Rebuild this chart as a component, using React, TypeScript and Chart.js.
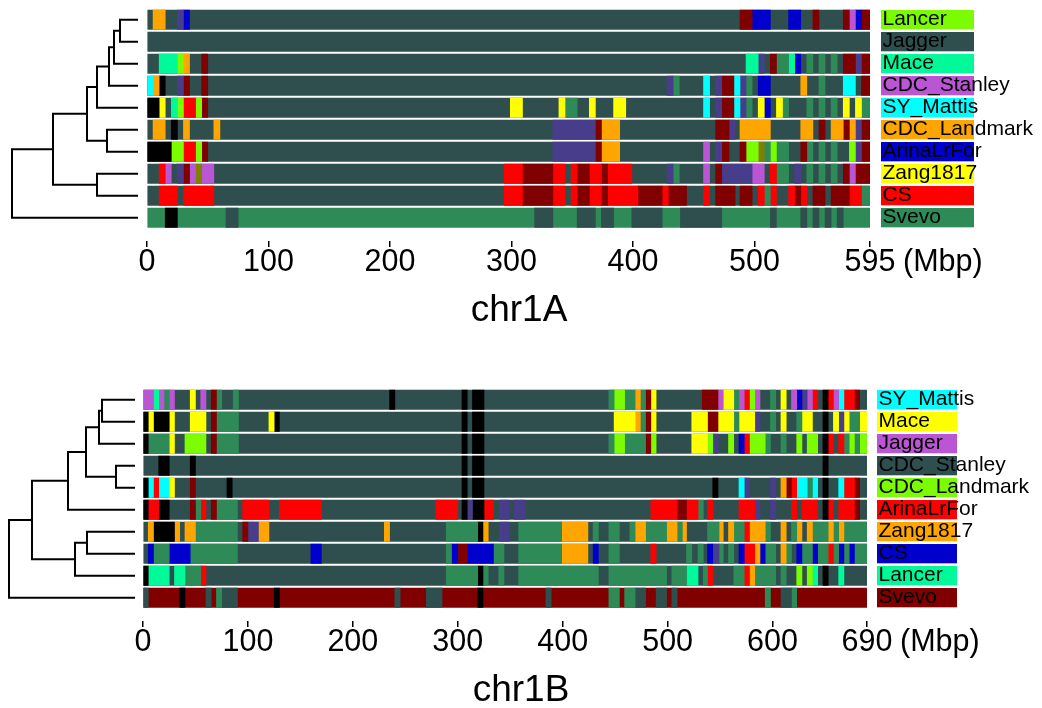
import React, { useEffect, useRef } from "react";
import { Chart, registerables } from "chart.js";
Chart.register(...registerables);

const FONT = "'Liberation Sans', Arial, Helvetica, sans-serif";

// haplotype colour codes
const PALETTE: Record<string, string> = {
  S: "#2F4F4F", G: "#2E8B57", K: "#000000", O: "#FFA500", P: "#483D8B",
  B: "#0000CD", M: "#800000", V: "#BA55D3", N: "#00FA9A", L: "#7CFC00",
  C: "#00FFFF", Y: "#FFFF00", R: "#FF0000", D: "#808000",
};

type Seg = [number, number, string];

// ---------------- chr1A ----------------
const chr1A_length = 595;
const chr1A_ticks = [0, 100, 200, 300, 400, 500, 595];
const chr1A_names = ["Lancer", "Jagger", "Mace", "CDC_Stanley", "SY_Mattis", "CDC_Landmark", "ArinaLrFor", "Zang1817", "CS", "Svevo"];
const chr1A_base = ["S", "S", "S", "S", "S", "S", "S", "S", "S", "G"];
const chr1A_labelCol = ["L", "S", "N", "V", "C", "O", "B", "Y", "R", "G"];

const chr1A_Lancer: Seg[] = [[5,15,"O"],[25,30,"P"],[30,35,"B"],[488,498,"M"],[498,513,"B"],[528,538,"B"],[548,553,"M"],[573,578,"M"],[578,583,"V"],[583,588,"B"],[588,595,"M"]];
const chr1A_Jagger: Seg[] = [];
const chr1A_Mace: Seg[] = [[10,25,"N"],[25,30,"L"],[30,35,"O"],[45,50,"M"],[493,503,"N"],[503,508,"P"],[513,518,"M"],[518,528,"G"],[528,533,"N"],[533,538,"B"],[543,548,"G"],[553,558,"G"],[563,568,"G"],[573,583,"M"],[583,588,"P"],[588,595,"M"]];
const chr1A_CDC_Stanley: Seg[] = [[0,5,"C"],[5,10,"O"],[10,15,"K"],[25,30,"P"],[30,35,"M"],[45,50,"M"],[428,433,"P"],[433,438,"G"],[458,463,"C"],[468,473,"P"],[473,483,"M"],[483,488,"C"],[488,493,"P"],[493,498,"G"],[503,513,"B"],[538,543,"O"],[553,558,"G"],[573,583,"C"],[588,595,"M"]];
const chr1A_SY_Mattis: Seg[] = [[0,10,"K"],[10,15,"Y"],[20,25,"N"],[25,30,"L"],[30,40,"R"],[40,45,"L"],[45,50,"M"],[299,309,"Y"],[339,344,"Y"],[344,354,"G"],[364,369,"Y"],[384,394,"Y"],[458,463,"C"],[468,473,"P"],[473,483,"M"],[483,488,"C"],[488,493,"P"],[493,498,"G"],[503,508,"Y"],[508,513,"B"],[518,523,"Y"],[523,528,"G"],[543,548,"G"],[553,558,"G"],[563,568,"G"],[573,578,"Y"],[583,588,"Y"],[588,595,"G"]];
const chr1A_CDC_Landmark: Seg[] = [[5,15,"O"],[20,25,"K"],[30,35,"O"],[55,60,"O"],[334,369,"P"],[369,374,"M"],[374,389,"O"],[468,479,"M"],[479,484,"P"],[488,513,"O"],[538,548,"O"],[553,558,"M"],[563,573,"O"],[573,578,"M"],[578,583,"O"],[583,588,"P"],[588,595,"M"]];
const chr1A_ArinaLrFor: Seg[] = [[0,20,"K"],[20,30,"L"],[30,40,"R"],[40,45,"L"],[45,50,"M"],[334,369,"P"],[369,374,"M"],[374,389,"O"],[458,463,"V"],[468,473,"P"],[473,479,"M"],[488,493,"M"],[493,503,"L"],[503,508,"D"],[508,513,"G"],[513,518,"L"],[518,528,"G"],[538,543,"M"],[543,548,"G"],[553,558,"G"],[563,568,"G"],[578,583,"L"],[583,588,"P"],[588,595,"M"]];
const chr1A_Zang1817: Seg[] = [[10,15,"R"],[15,20,"V"],[25,30,"P"],[30,35,"M"],[35,40,"V"],[40,45,"D"],[45,55,"V"],[294,309,"R"],[309,334,"M"],[334,344,"R"],[349,354,"R"],[354,364,"M"],[364,374,"R"],[374,379,"M"],[379,399,"R"],[428,433,"P"],[433,438,"G"],[458,463,"V"],[468,473,"M"],[473,498,"P"],[498,508,"V"],[513,518,"R"],[518,528,"G"],[533,538,"P"],[543,548,"G"],[553,558,"G"],[563,568,"G"],[573,578,"M"],[578,583,"V"],[583,595,"M"]];
const chr1A_CS: Seg[] = [[10,25,"R"],[30,55,"R"],[294,309,"R"],[309,334,"M"],[334,344,"R"],[349,354,"R"],[354,364,"M"],[364,374,"R"],[374,379,"M"],[379,404,"R"],[404,424,"M"],[424,429,"R"],[429,444,"M"],[458,463,"R"],[468,484,"M"],[488,498,"M"],[503,508,"R"],[508,513,"G"],[513,518,"R"],[528,533,"R"],[533,538,"M"],[538,543,"R"],[548,558,"M"],[563,578,"M"],[578,588,"R"],[588,595,"G"]];
const chr1A_Svevo: Seg[] = [[15,25,"K"],[65,75,"S"],[319,334,"S"],[354,369,"S"],[374,384,"S"],[399,424,"S"],[439,473,"S"],[513,518,"S"],[538,543,"S"],[548,553,"S"],[558,563,"S"],[568,573,"S"]];
const chr1A_rows = [chr1A_Lancer, chr1A_Jagger, chr1A_Mace, chr1A_CDC_Stanley, chr1A_SY_Mattis, chr1A_CDC_Landmark, chr1A_ArinaLrFor, chr1A_Zang1817, chr1A_CS, chr1A_Svevo];

// dendrogram (R hclust style merges: negative = leaf row, positive = earlier merge)
const chr1A_mergeA = [-1, 1, 2, 3, -6, 4, -8, 6, 8];
const chr1A_mergeB = [-2, -3, -4, -5, -7, 5, -9, 7, -10];
const chr1A_height = [18, 24, 29, 41, 31, 51, 41, 85, 126];

// ---------------- chr1B ----------------
const chr1B_length = 690;
const chr1B_ticks = [0, 100, 200, 300, 400, 500, 600, 690];
const chr1B_names = ["SY_Mattis", "Mace", "Jagger", "CDC_Stanley", "CDC_Landmark", "ArinaLrFor", "Zang1817", "CS", "Lancer", "Svevo"];
const chr1B_base = ["S", "S", "S", "S", "S", "S", "S", "S", "S", "M"];
const chr1B_labelCol = ["C", "Y", "V", "S", "L", "R", "O", "B", "N", "M"];

const chr1B_SY_Mattis: Seg[] = [[0,10,"V"],[10,15,"N"],[15,20,"V"],[20,25,"G"],[25,30,"V"],[45,50,"Y"],[55,60,"V"],[65,70,"M"],[70,75,"G"],[86,91,"G"],[235,240,"K"],[304,309,"K"],[314,325,"K"],[444,449,"G"],[449,459,"L"],[459,469,"G"],[469,474,"O"],[474,479,"G"],[479,484,"M"],[484,489,"Y"],[533,548,"M"],[548,553,"V"],[553,563,"Y"],[563,568,"G"],[568,573,"V"],[573,578,"R"],[578,583,"L"],[583,588,"V"],[598,603,"G"],[608,613,"Y"],[618,623,"V"],[623,628,"B"],[628,633,"P"],[633,638,"V"],[638,643,"R"],[648,653,"K"],[653,658,"R"],[658,663,"V"],[663,668,"C"],[668,678,"R"],[678,683,"M"]];
const chr1B_Mace: Seg[] = [[0,5,"K"],[5,10,"Y"],[10,25,"K"],[25,30,"Y"],[45,60,"Y"],[65,70,"M"],[70,91,"G"],[120,125,"Y"],[125,130,"K"],[304,309,"K"],[314,325,"K"],[449,469,"Y"],[469,474,"O"],[474,479,"G"],[479,484,"M"],[484,489,"Y"],[523,538,"Y"],[538,548,"M"],[548,563,"Y"],[563,568,"G"],[568,583,"Y"],[583,588,"P"],[598,603,"G"],[608,613,"Y"],[623,628,"G"],[628,638,"Y"],[648,653,"K"],[658,663,"Y"],[663,668,"P"],[668,673,"Y"],[673,683,"G"],[683,690,"Y"]];
const chr1B_Jagger: Seg[] = [[0,5,"K"],[5,25,"G"],[25,30,"Y"],[40,60,"L"],[65,70,"M"],[70,91,"G"],[304,309,"K"],[314,325,"K"],[444,449,"G"],[449,459,"L"],[459,479,"G"],[479,484,"M"],[484,489,"L"],[523,538,"Y"],[538,543,"L"],[543,548,"P"],[558,563,"L"],[568,573,"B"],[573,578,"R"],[578,593,"L"],[593,598,"G"],[608,613,"G"],[623,628,"L"],[633,643,"L"],[648,653,"K"],[653,658,"R"],[663,668,"R"],[668,673,"G"],[673,678,"L"],[678,683,"G"],[683,690,"L"]];
const chr1B_CDC_Stanley: Seg[] = [[15,25,"K"],[45,50,"K"],[304,309,"K"],[314,325,"K"],[648,653,"K"]];
const chr1B_CDC_Landmark: Seg[] = [[0,5,"K"],[5,10,"C"],[10,15,"R"],[15,25,"C"],[25,30,"Y"],[45,50,"M"],[80,85,"K"],[304,309,"K"],[314,325,"K"],[543,548,"K"],[568,573,"C"],[573,578,"P"],[598,603,"P"],[608,613,"O"],[613,618,"M"],[618,623,"R"],[623,633,"C"],[633,638,"G"],[638,643,"C"],[648,653,"K"],[663,668,"C"],[668,678,"R"],[678,683,"M"]];
const chr1B_ArinaLrFor: Seg[] = [[0,5,"K"],[5,15,"R"],[15,25,"K"],[45,50,"M"],[50,55,"G"],[55,60,"R"],[65,70,"M"],[70,90,"G"],[95,120,"R"],[130,170,"R"],[279,300,"R"],[304,309,"K"],[309,314,"P"],[314,325,"K"],[325,334,"R"],[340,349,"P"],[354,364,"P"],[484,509,"R"],[509,518,"M"],[518,529,"R"],[529,534,"G"],[538,543,"R"],[568,583,"R"],[583,588,"P"],[598,603,"P"],[618,623,"R"],[628,643,"R"],[648,653,"K"],[653,658,"R"],[663,678,"R"],[678,683,"M"]];
const chr1B_Zang1817: Seg[] = [[5,10,"O"],[10,30,"K"],[30,35,"O"],[40,50,"O"],[50,90,"G"],[95,100,"M"],[100,110,"P"],[110,120,"O"],[230,235,"O"],[289,319,"G"],[319,324,"K"],[324,329,"O"],[340,349,"P"],[358,399,"G"],[399,424,"O"],[429,434,"G"],[444,454,"G"],[464,469,"G"],[469,479,"O"],[479,499,"G"],[499,509,"O"],[509,514,"G"],[514,518,"O"],[538,549,"G"],[549,553,"O"],[558,563,"O"],[563,573,"G"],[573,578,"R"],[578,593,"O"],[593,598,"G"],[608,613,"O"],[618,623,"G"],[623,628,"O"],[633,638,"O"],[638,653,"G"],[653,658,"O"],[658,663,"G"],[663,668,"O"],[668,690,"G"]];
const chr1B_CS: Seg[] = [[5,10,"B"],[10,25,"G"],[25,45,"B"],[45,90,"G"],[160,170,"B"],[289,294,"G"],[294,300,"B"],[300,309,"M"],[309,334,"B"],[334,344,"G"],[358,399,"G"],[399,424,"O"],[429,434,"B"],[444,454,"G"],[484,489,"R"],[518,523,"G"],[529,534,"G"],[538,543,"B"],[543,549,"P"],[549,553,"G"],[558,563,"G"],[568,573,"B"],[573,583,"R"],[583,588,"O"],[588,593,"B"],[593,603,"G"],[608,613,"O"],[613,618,"G"],[623,628,"B"],[628,638,"G"],[638,643,"B"],[643,653,"G"],[653,658,"R"],[658,663,"G"],[663,668,"B"],[668,673,"G"],[673,678,"B"],[678,690,"G"]];
const chr1B_Lancer: Seg[] = [[0,5,"K"],[5,25,"N"],[30,40,"N"],[40,55,"G"],[55,60,"R"],[289,319,"G"],[319,324,"K"],[324,329,"G"],[339,344,"G"],[358,434,"G"],[444,499,"G"],[504,518,"G"],[518,529,"N"],[534,538,"G"],[538,543,"R"],[563,573,"G"],[573,578,"R"],[578,583,"O"],[583,603,"G"],[608,613,"G"],[623,628,"L"],[633,638,"L"],[638,643,"N"],[648,653,"K"],[663,668,"N"]];
const chr1B_Svevo: Seg[] = [[0,5,"S"],[35,40,"K"],[60,65,"S"],[70,75,"G"],[75,90,"S"],[125,130,"K"],[240,245,"S"],[270,285,"S"],[319,324,"K"],[384,389,"S"],[444,454,"G"],[459,469,"G"],[469,479,"S"],[489,499,"S"],[504,509,"S"],[593,598,"G"],[608,618,"S"],[618,623,"G"]];
const chr1B_rows = [chr1B_SY_Mattis, chr1B_Mace, chr1B_Jagger, chr1B_CDC_Stanley, chr1B_CDC_Landmark, chr1B_ArinaLrFor, chr1B_Zang1817, chr1B_CS, chr1B_Lancer, chr1B_Svevo];

const chr1B_mergeA = [-1, 1, -4, 2, 4, -7, 6, 5, 8];
const chr1B_mergeB = [-2, -3, -5, 3, -6, -8, -9, 7, -10];
const chr1B_height = [33, 36, 19, 49, 67, 48, 60, 103, 126];

// ---------------- layout ----------------
const BAR_H = 19.3;
const ROW_TOP_PAD = 8.65; // chart area top inside the panel
const TICK_FONT = 30.5;
const TITLE_FONT = 37;

interface PanelSpec {
  title: string;
  length: number;
  ticks: number[];
  names: string[];
  base: string[];
  labelCol: string[];
  rows: Seg[][];
  mergeA: number[];
  mergeB: number[];
  height: number[];
  top: number;
  barLeft: number;
  barRight: number;
  labelGap: number;
  labelW: number;
  dendroLeft: number;
  dendroMax: number;
  titleX: number;
}

const panels: PanelSpec[] = [
  {
    title: "chr1A", length: chr1A_length, ticks: chr1A_ticks, names: chr1A_names, base: chr1A_base,
    labelCol: chr1A_labelCol, rows: chr1A_rows, mergeA: chr1A_mergeA, mergeB: chr1A_mergeB, height: chr1A_height,
    top: 0, barLeft: 147, barRight: 870, labelGap: 11, labelW: 93, dendroLeft: 12, dendroMax: 126, titleX: 519,
  },
  {
    title: "chr1B", length: chr1B_length, ticks: chr1B_ticks, names: chr1B_names, base: chr1B_base,
    labelCol: chr1B_labelCol, rows: chr1B_rows, mergeA: chr1B_mergeA, mergeB: chr1B_mergeB, height: chr1B_height,
    top: 380, barLeft: 143, barRight: 867, labelGap: 10, labelW: 80, dendroLeft: 9, dendroMax: 126, titleX: 521,
  },
];

function dendroPaths(a: number[], b: number[], h: number[]) {
  const nodeY: number[] = [];
  const nodeH: number[] = [];
  const pos = (ref: number) => (ref < 0 ? { y: -ref - 1, h: 0 } : { y: nodeY[ref - 1], h: nodeH[ref - 1] });
  const paths: { x: number; y: number }[][] = [];
  for (let i = 0; i < h.length; i++) {
    const l = pos(a[i]);
    const r = pos(b[i]);
    paths.push([
      { x: l.h, y: l.y },
      { x: h[i], y: l.y },
      { x: h[i], y: r.y },
      { x: r.h, y: r.y },
    ]);
    nodeY.push((l.y + r.y) / 2);
    nodeH.push(h[i]);
  }
  return paths;
}

const BAR_CANVAS_LEFT = 100;
const BAR_CANVAS_W = 942;
const BAR_CANVAS_H = 328;
const Y_MAX = 10.06;

function Panel({ spec }: { spec: PanelSpec }) {
  const barRef = useRef<HTMLCanvasElement>(null);
  const dRef = useRef<HTMLCanvasElement>(null);

  useEffect(() => {
    const maxSegs = Math.max(...spec.rows.map((r) => r.length));
    const datasets: any[] = [];
    for (let k = 0; k < maxSegs; k++) {
      const data: any[] = [];
      spec.rows.forEach((segs, i) => {
        const s = segs[k];
        if (s) data.push({ x: [s[0], s[1]], y: i, c: s[2] });
      });
      datasets.push({
        data,
        backgroundColor: (ctx: any) => PALETTE[ctx.raw?.c] || "#2F4F4F",
        barThickness: BAR_H,
        grouped: false,
        borderWidth: 0,
        order: 1,
      });
    }
    // background (majority haplotype) bar of every row, drawn underneath
    datasets.push({
      data: spec.names.map((_, i) => ({ x: [0, spec.length], y: i })),
      backgroundColor: spec.base.map((c) => PALETTE[c]),
      barThickness: BAR_H,
      grouped: false,
      borderWidth: 0,
      order: 2,
    });

    const titleBlock = 87 - 6 - TICK_FONT;

    const labelPlugin = {
      id: "rowLabels",
      afterDraw(chart: any) {
        const { ctx, chartArea, scales } = chart;
        const ys = scales.y;
        const xs = scales.x;
        const x0 = chartArea.right + spec.labelGap;
        ctx.save();
        spec.names.forEach((_, i) => {
          const yc = ys.getPixelForValue(i);
          ctx.fillStyle = PALETTE[spec.labelCol[i]];
          ctx.fillRect(x0, yc - BAR_H / 2, spec.labelW, BAR_H);
        });
        ctx.fillStyle = "#000";
        ctx.font = `21px ${FONT}`;
        ctx.textAlign = "left";
        ctx.textBaseline = "alphabetic";
        spec.names.forEach((n, i) => {
          const yc = ys.getPixelForValue(i);
          ctx.fillText(n, x0 + 1.5, yc + 5);
        });
        ctx.font = `${TICK_FONT}px ${FONT}`;
        ctx.textBaseline = "top";
        ctx.fillText("(Mbp)", xs.getPixelForValue(spec.length) + 33, xs.top + 6);
        // chromosome title
        ctx.font = `${TITLE_FONT}px ${FONT}`;
        ctx.textAlign = "center";
        ctx.textBaseline = "alphabetic";
        ctx.fillText(spec.title, spec.titleX - BAR_CANVAS_LEFT, chart.height - 7);
        ctx.restore();
      },
    };

    const barChart = new Chart(barRef.current!, {
      type: "bar",
      data: { datasets },
      plugins: [labelPlugin],
      options: {
        indexAxis: "y",
        responsive: false,
        animation: false,
        events: [],
        layout: {
          padding: {
            left: spec.barLeft - BAR_CANVAS_LEFT,
            right: BAR_CANVAS_LEFT + BAR_CANVAS_W - spec.barRight,
            top: ROW_TOP_PAD,
            bottom: titleBlock,
          },
        },
        plugins: { legend: { display: false }, tooltip: { enabled: false } },
        scales: {
          x: {
            type: "linear",
            min: 0,
            max: spec.length,
            afterBuildTicks: (s: any) => {
              s.ticks = spec.ticks.map((v) => ({ value: v }));
            },
            ticks: {
              color: "#000",
              font: { family: FONT, size: TICK_FONT, lineHeight: 1 },
              padding: 0,
              maxRotation: 0,
              autoSkip: false,
              callback: (v: any) => String(v),
            },
            grid: { display: true, drawOnChartArea: false, drawTicks: true, tickLength: 6, color: "#000", lineWidth: 1.5 },
            border: { display: false },
            title: { display: false },
          },
          y: { type: "linear", min: -0.5, max: Y_MAX, reverse: true, offset: false, display: false, grid: { offset: false } },
        },
      } as any,
    });

    const paths = dendroPaths(spec.mergeA, spec.mergeB, spec.height);
    const dChart = new Chart(dRef.current!, {
      type: "scatter",
      data: {
        datasets: paths.map((p) => ({
          data: p,
          showLine: true,
          borderColor: "#000",
          borderWidth: 2,
          pointRadius: 0,
          tension: 0,
          clip: false as any,
        })),
      },
      options: {
        responsive: false,
        animation: false,
        events: [],
        layout: { padding: { left: 4, right: 4, top: 4.65, bottom: 4.35 } },
        plugins: { legend: { display: false }, tooltip: { enabled: false } },
        scales: {
          x: { type: "linear", min: 0, max: spec.dendroMax, reverse: true, display: false },
          y: { type: "linear", min: -0.5, max: 9.5, reverse: true, display: false },
        },
      } as any,
    });

    return () => {
      barChart.destroy();
      dChart.destroy();
    };
  }, [spec]);

  return (
    <>
      <canvas
        ref={dRef}
        width={134}
        height={229}
        style={{ position: "absolute", left: spec.dendroLeft - 4, top: spec.top + 4, width: 134, height: 229 }}
      />
      <canvas
        ref={barRef}
        width={BAR_CANVAS_W}
        height={BAR_CANVAS_H}
        style={{ position: "absolute", left: BAR_CANVAS_LEFT, top: spec.top, width: BAR_CANVAS_W, height: BAR_CANVAS_H }}
      />
    </>
  );
}

export default function App() {
  return (
    <div style={{ position: "absolute", left: 0, top: 0, width: 1042, height: 708, background: "#fff", overflow: "hidden" }}>
      {panels.map((p) => (
        <Panel key={p.title} spec={p} />
      ))}
    </div>
  );
}
